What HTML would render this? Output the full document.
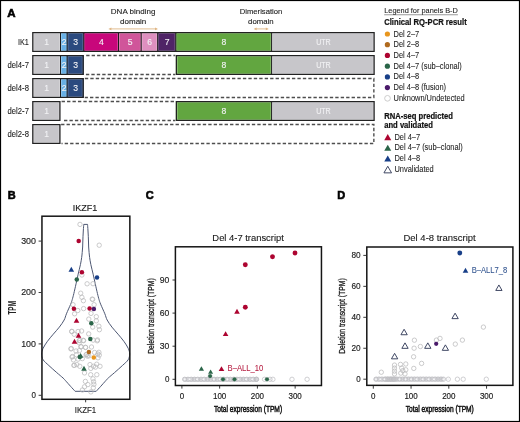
<!DOCTYPE html>
<html><head><meta charset="utf-8"><style>
html,body{margin:0;padding:0;background:#fff;}
svg{display:block;will-change:transform;}
text{font-family:"Liberation Sans", sans-serif;}
</style></head><body>
<svg width="520" height="422" viewBox="0 0 520 422">
<rect x="0" y="0" width="520" height="422" fill="#fff"/>
<text x="7.2" y="17.2" font-size="11.50" text-anchor="start" font-weight="bold" fill="#000" stroke="#000" stroke-width="0.6" textLength="8.30" lengthAdjust="spacingAndGlyphs" >A</text>
<text x="133.1" y="14.1" font-size="8.00" text-anchor="middle" font-weight="normal" fill="#222" stroke="#222" stroke-width="0.12" textLength="44.60" lengthAdjust="spacingAndGlyphs" >DNA binding</text>
<text x="133.2" y="23.5" font-size="8.00" text-anchor="middle" font-weight="normal" fill="#222" stroke="#222" stroke-width="0.12" textLength="26.24" lengthAdjust="spacingAndGlyphs" >domain</text>
<text x="261.0" y="14.1" font-size="8.10" text-anchor="middle" font-weight="normal" fill="#222" stroke="#222" stroke-width="0.12" textLength="42.60" lengthAdjust="spacingAndGlyphs" >Dimerisation</text>
<text x="260.9" y="23.5" font-size="8.10" text-anchor="middle" font-weight="normal" fill="#222" stroke="#222" stroke-width="0.12" textLength="25.60" lengthAdjust="spacingAndGlyphs" >domain</text>
<line x1="109.9" y1="28.9" x2="156.5" y2="28.9" stroke="#dfb584" stroke-width="0.9"/>
<polygon points="108.4,28.9 111.4,27.6 111.4,30.2" fill="#dfb584"/>
<polygon points="158.0,28.9 155.0,27.6 155.0,30.2" fill="#dfb584"/>
<line x1="255.1" y1="28.9" x2="267.3" y2="28.9" stroke="#dfb584" stroke-width="0.9"/>
<polygon points="253.6,28.9 256.6,27.6 256.6,30.2" fill="#dfb584"/>
<polygon points="268.8,28.9 265.8,27.6 265.8,30.2" fill="#dfb584"/>
<text x="28.9" y="44.5" font-size="9.28" text-anchor="end" font-weight="normal" fill="#1a1a1a" stroke="#1a1a1a" stroke-width="0.1" textLength="10.90" lengthAdjust="spacingAndGlyphs" >IK1</text>
<rect x="32.2" y="32.0" width="28.299999999999997" height="20.0" fill="#c7c6ca"/>
<rect x="33.80" y="33.60" width="25.80" height="16.80" fill="none" stroke="#fff" stroke-opacity="0.28" stroke-width="0.8"/>
<rect x="60.5" y="32.0" width="6.599999999999994" height="20.0" fill="#67b0e6"/>
<rect x="61.40" y="33.60" width="4.80" height="16.80" fill="none" stroke="#fff" stroke-opacity="0.28" stroke-width="0.8"/>
<rect x="67.1" y="32.0" width="16.700000000000003" height="20.0" fill="#2b4a7f"/>
<rect x="68.00" y="33.60" width="14.90" height="16.80" fill="none" stroke="#fff" stroke-opacity="0.28" stroke-width="0.8"/>
<rect x="83.8" y="32.0" width="34.7" height="20.0" fill="#c8077b"/>
<rect x="84.70" y="33.60" width="32.90" height="16.80" fill="none" stroke="#fff" stroke-opacity="0.28" stroke-width="0.8"/>
<rect x="118.5" y="32.0" width="22.69999999999999" height="20.0" fill="#d0559a"/>
<rect x="119.40" y="33.60" width="20.90" height="16.80" fill="none" stroke="#fff" stroke-opacity="0.28" stroke-width="0.8"/>
<rect x="141.2" y="32.0" width="16.5" height="20.0" fill="#de8fbf"/>
<rect x="142.10" y="33.60" width="14.70" height="16.80" fill="none" stroke="#fff" stroke-opacity="0.28" stroke-width="0.8"/>
<rect x="157.7" y="32.0" width="18.100000000000023" height="20.0" fill="#4f2466"/>
<rect x="158.60" y="33.60" width="16.30" height="16.80" fill="none" stroke="#fff" stroke-opacity="0.28" stroke-width="0.8"/>
<rect x="175.8" y="32.0" width="95.80000000000001" height="20.0" fill="#62a640"/>
<rect x="176.70" y="33.60" width="94.00" height="16.80" fill="none" stroke="#fff" stroke-opacity="0.28" stroke-width="0.8"/>
<rect x="271.6" y="32.0" width="103.09999999999997" height="20.0" fill="#c7c6ca"/>
<rect x="272.50" y="33.60" width="100.60" height="16.80" fill="none" stroke="#fff" stroke-opacity="0.28" stroke-width="0.8"/>
<line x1="60.5" y1="32.0" x2="60.5" y2="52.0" stroke="#1c1c1c" stroke-width="1.0"/>
<line x1="67.1" y1="32.0" x2="67.1" y2="52.0" stroke="#1c1c1c" stroke-width="1.0"/>
<line x1="83.8" y1="32.0" x2="83.8" y2="52.0" stroke="#1c1c1c" stroke-width="1.0"/>
<line x1="118.5" y1="32.0" x2="118.5" y2="52.0" stroke="#1c1c1c" stroke-width="1.0"/>
<line x1="141.2" y1="32.0" x2="141.2" y2="52.0" stroke="#1c1c1c" stroke-width="1.0"/>
<line x1="157.7" y1="32.0" x2="157.7" y2="52.0" stroke="#1c1c1c" stroke-width="1.0"/>
<line x1="175.8" y1="32.0" x2="175.8" y2="52.0" stroke="#1c1c1c" stroke-width="1.0"/>
<line x1="271.6" y1="32.0" x2="271.6" y2="52.0" stroke="#1c1c1c" stroke-width="1.0"/>
<rect x="32.800000000000004" y="32.6" width="341.3" height="18.8" fill="none" stroke="#222" stroke-width="1.2"/>
<text x="46.65" y="44.9" font-size="8.6" text-anchor="middle" fill="#f2f2f4" stroke="#f2f2f4" stroke-width="0.12">1</text>
<text x="64.10" y="44.9" font-size="8.6" text-anchor="middle" fill="#f2f2f4" stroke="#f2f2f4" stroke-width="0.12">2</text>
<text x="75.75" y="44.9" font-size="8.6" text-anchor="middle" fill="#f2f2f4" stroke="#f2f2f4" stroke-width="0.12">3</text>
<text x="101.45" y="44.9" font-size="8.6" text-anchor="middle" fill="#f2f2f4" stroke="#f2f2f4" stroke-width="0.12">4</text>
<text x="130.15" y="44.9" font-size="8.6" text-anchor="middle" fill="#f2f2f4" stroke="#f2f2f4" stroke-width="0.12">5</text>
<text x="149.75" y="44.9" font-size="8.6" text-anchor="middle" fill="#f2f2f4" stroke="#f2f2f4" stroke-width="0.12">6</text>
<text x="167.05" y="44.9" font-size="8.6" text-anchor="middle" fill="#f2f2f4" stroke="#f2f2f4" stroke-width="0.12">7</text>
<text x="224.00" y="44.9" font-size="8.6" text-anchor="middle" fill="#f2f2f4" stroke="#f2f2f4" stroke-width="0.12">8</text>
<text x="323.45" y="44.9" font-size="8.6" text-anchor="middle" fill="#f2f2f4" stroke="#f2f2f4" stroke-width="0.12" textLength="14.6" lengthAdjust="spacingAndGlyphs">UTR</text>
<text x="28.9" y="67.5" font-size="9.28" text-anchor="end" font-weight="normal" fill="#1a1a1a" stroke="#1a1a1a" stroke-width="0.1" textLength="21.30" lengthAdjust="spacingAndGlyphs" >del4-7</text>
<path d="M86.2,55.45 H175.3" stroke="#4e4e4e" stroke-width="1.4" stroke-dasharray="3.35,2.1" fill="none"/>
<path d="M85.89999999999999,74.55 H175.3" stroke="#4e4e4e" stroke-width="1.4" stroke-dasharray="3.35,2.1" fill="none"/>
<rect x="32.2" y="55.0" width="28.299999999999997" height="20.0" fill="#c7c6ca"/>
<rect x="33.80" y="56.60" width="25.80" height="16.80" fill="none" stroke="#fff" stroke-opacity="0.28" stroke-width="0.8"/>
<rect x="60.5" y="55.0" width="6.599999999999994" height="20.0" fill="#67b0e6"/>
<rect x="61.40" y="56.60" width="4.80" height="16.80" fill="none" stroke="#fff" stroke-opacity="0.28" stroke-width="0.8"/>
<rect x="67.1" y="55.0" width="16.700000000000003" height="20.0" fill="#2b4a7f"/>
<rect x="68.00" y="56.60" width="14.20" height="16.80" fill="none" stroke="#fff" stroke-opacity="0.28" stroke-width="0.8"/>
<line x1="60.5" y1="55.0" x2="60.5" y2="75.0" stroke="#1c1c1c" stroke-width="1.0"/>
<line x1="67.1" y1="55.0" x2="67.1" y2="75.0" stroke="#1c1c1c" stroke-width="1.0"/>
<rect x="32.800000000000004" y="55.6" width="50.39999999999999" height="18.8" fill="none" stroke="#222" stroke-width="1.2"/>
<text x="46.65" y="67.9" font-size="8.6" text-anchor="middle" fill="#f2f2f4" stroke="#f2f2f4" stroke-width="0.12">1</text>
<text x="64.10" y="67.9" font-size="8.6" text-anchor="middle" fill="#f2f2f4" stroke="#f2f2f4" stroke-width="0.12">2</text>
<text x="75.75" y="67.9" font-size="8.6" text-anchor="middle" fill="#f2f2f4" stroke="#f2f2f4" stroke-width="0.12">3</text>
<rect x="175.8" y="55.0" width="95.80000000000001" height="20.0" fill="#62a640"/>
<rect x="177.40" y="56.60" width="93.30" height="16.80" fill="none" stroke="#fff" stroke-opacity="0.28" stroke-width="0.8"/>
<rect x="271.6" y="55.0" width="103.09999999999997" height="20.0" fill="#c7c6ca"/>
<rect x="272.50" y="56.60" width="100.60" height="16.80" fill="none" stroke="#fff" stroke-opacity="0.28" stroke-width="0.8"/>
<line x1="271.6" y1="55.0" x2="271.6" y2="75.0" stroke="#1c1c1c" stroke-width="1.0"/>
<rect x="176.4" y="55.6" width="197.7" height="18.8" fill="none" stroke="#222" stroke-width="1.2"/>
<text x="224.00" y="67.9" font-size="8.6" text-anchor="middle" fill="#f2f2f4" stroke="#f2f2f4" stroke-width="0.12">8</text>
<text x="323.45" y="67.9" font-size="8.6" text-anchor="middle" fill="#f2f2f4" stroke="#f2f2f4" stroke-width="0.12" textLength="14.6" lengthAdjust="spacingAndGlyphs">UTR</text>
<text x="28.9" y="90.5" font-size="9.28" text-anchor="end" font-weight="normal" fill="#1a1a1a" stroke="#1a1a1a" stroke-width="0.1" textLength="21.30" lengthAdjust="spacingAndGlyphs" >del4-8</text>
<path d="M84.85,78.45 H373.84999999999997 V97.55 H84.8" stroke="#4e4e4e" stroke-width="1.4" stroke-dasharray="3.35,2.1" fill="none"/>
<rect x="32.2" y="78.0" width="28.299999999999997" height="20.0" fill="#c7c6ca"/>
<rect x="33.80" y="79.60" width="25.80" height="16.80" fill="none" stroke="#fff" stroke-opacity="0.28" stroke-width="0.8"/>
<rect x="60.5" y="78.0" width="6.599999999999994" height="20.0" fill="#67b0e6"/>
<rect x="61.40" y="79.60" width="4.80" height="16.80" fill="none" stroke="#fff" stroke-opacity="0.28" stroke-width="0.8"/>
<rect x="67.1" y="78.0" width="16.700000000000003" height="20.0" fill="#2b4a7f"/>
<rect x="68.00" y="79.60" width="14.20" height="16.80" fill="none" stroke="#fff" stroke-opacity="0.28" stroke-width="0.8"/>
<line x1="60.5" y1="78.0" x2="60.5" y2="98.0" stroke="#1c1c1c" stroke-width="1.0"/>
<line x1="67.1" y1="78.0" x2="67.1" y2="98.0" stroke="#1c1c1c" stroke-width="1.0"/>
<rect x="32.800000000000004" y="78.6" width="50.39999999999999" height="18.8" fill="none" stroke="#222" stroke-width="1.2"/>
<text x="46.65" y="90.9" font-size="8.6" text-anchor="middle" fill="#f2f2f4" stroke="#f2f2f4" stroke-width="0.12">1</text>
<text x="64.10" y="90.9" font-size="8.6" text-anchor="middle" fill="#f2f2f4" stroke="#f2f2f4" stroke-width="0.12">2</text>
<text x="75.75" y="90.9" font-size="8.6" text-anchor="middle" fill="#f2f2f4" stroke="#f2f2f4" stroke-width="0.12">3</text>
<text x="28.9" y="113.5" font-size="9.28" text-anchor="end" font-weight="normal" fill="#1a1a1a" stroke="#1a1a1a" stroke-width="0.1" textLength="21.30" lengthAdjust="spacingAndGlyphs" >del2-7</text>
<path d="M61.6,101.45 H175.3" stroke="#4e4e4e" stroke-width="1.4" stroke-dasharray="3.35,2.1" fill="none"/>
<path d="M64.0,120.55 H175.3" stroke="#4e4e4e" stroke-width="1.4" stroke-dasharray="3.35,2.1" fill="none"/>
<rect x="32.2" y="101.0" width="28.299999999999997" height="20.0" fill="#c7c6ca"/>
<rect x="33.80" y="102.60" width="25.10" height="16.80" fill="none" stroke="#fff" stroke-opacity="0.28" stroke-width="0.8"/>
<rect x="32.800000000000004" y="101.6" width="27.099999999999998" height="18.8" fill="none" stroke="#222" stroke-width="1.2"/>
<text x="46.65" y="113.9" font-size="8.6" text-anchor="middle" fill="#f2f2f4" stroke="#f2f2f4" stroke-width="0.12">1</text>
<rect x="175.8" y="101.0" width="95.80000000000001" height="20.0" fill="#62a640"/>
<rect x="177.40" y="102.60" width="93.30" height="16.80" fill="none" stroke="#fff" stroke-opacity="0.28" stroke-width="0.8"/>
<rect x="271.6" y="101.0" width="103.09999999999997" height="20.0" fill="#c7c6ca"/>
<rect x="272.50" y="102.60" width="100.60" height="16.80" fill="none" stroke="#fff" stroke-opacity="0.28" stroke-width="0.8"/>
<line x1="271.6" y1="101.0" x2="271.6" y2="121.0" stroke="#1c1c1c" stroke-width="1.0"/>
<rect x="176.4" y="101.6" width="197.7" height="18.8" fill="none" stroke="#222" stroke-width="1.2"/>
<text x="224.00" y="113.9" font-size="8.6" text-anchor="middle" fill="#f2f2f4" stroke="#f2f2f4" stroke-width="0.12">8</text>
<text x="323.45" y="113.9" font-size="8.6" text-anchor="middle" fill="#f2f2f4" stroke="#f2f2f4" stroke-width="0.12" textLength="14.6" lengthAdjust="spacingAndGlyphs">UTR</text>
<text x="28.9" y="136.5" font-size="9.28" text-anchor="end" font-weight="normal" fill="#1a1a1a" stroke="#1a1a1a" stroke-width="0.1" textLength="21.30" lengthAdjust="spacingAndGlyphs" >del2-8</text>
<path d="M61.1,124.45 H373.84999999999997 V143.55 H61.5" stroke="#4e4e4e" stroke-width="1.4" stroke-dasharray="3.35,2.1" fill="none"/>
<rect x="32.2" y="124.0" width="28.299999999999997" height="20.0" fill="#c7c6ca"/>
<rect x="33.80" y="125.60" width="25.10" height="16.80" fill="none" stroke="#fff" stroke-opacity="0.28" stroke-width="0.8"/>
<rect x="32.800000000000004" y="124.6" width="27.099999999999998" height="18.8" fill="none" stroke="#222" stroke-width="1.2"/>
<text x="46.65" y="136.9" font-size="8.6" text-anchor="middle" fill="#f2f2f4" stroke="#f2f2f4" stroke-width="0.12">1</text>
<text x="384.2" y="13.2" font-size="7.99" text-anchor="start" font-weight="normal" fill="#222" stroke="#222" stroke-width="0.1" textLength="73.70" lengthAdjust="spacingAndGlyphs" >Legend for panels B-D</text>
<line x1="384.2" y1="14.75" x2="457.9" y2="14.75" stroke="#444" stroke-width="0.55"/>
<text x="384.2" y="25.3" font-size="9.20" text-anchor="start" font-weight="bold" fill="#111" stroke="#111" stroke-width="0.22" textLength="82.50" lengthAdjust="spacingAndGlyphs" >Clinical RQ-PCR result</text>
<circle cx="387.40" cy="34.00" r="2.6" fill="#e8961e"/>
<text x="393.5" y="36.6" font-size="8.20" text-anchor="start" font-weight="normal" fill="#222" stroke="#222" stroke-width="0.07" textLength="25.68" lengthAdjust="spacingAndGlyphs" >Del 2–7</text>
<circle cx="387.40" cy="44.72" r="2.6" fill="#b06a1e"/>
<text x="393.5" y="47.32" font-size="8.20" text-anchor="start" font-weight="normal" fill="#222" stroke="#222" stroke-width="0.07" textLength="25.68" lengthAdjust="spacingAndGlyphs" >Del 2–8</text>
<circle cx="387.40" cy="55.44" r="2.6" fill="#ad0430"/>
<text x="393.5" y="58.04" font-size="8.20" text-anchor="start" font-weight="normal" fill="#222" stroke="#222" stroke-width="0.07" textLength="25.68" lengthAdjust="spacingAndGlyphs" >Del 4–7</text>
<circle cx="387.40" cy="66.16" r="2.6" fill="#2a6548"/>
<text x="393.5" y="68.75999999999999" font-size="8.20" text-anchor="start" font-weight="normal" fill="#222" stroke="#222" stroke-width="0.07" textLength="68.33" lengthAdjust="spacingAndGlyphs" >Del 4–7 (sub–clonal)</text>
<circle cx="387.40" cy="76.88" r="2.6" fill="#183f88"/>
<text x="393.5" y="79.47999999999999" font-size="8.20" text-anchor="start" font-weight="normal" fill="#222" stroke="#222" stroke-width="0.07" textLength="25.68" lengthAdjust="spacingAndGlyphs" >Del 4–8</text>
<circle cx="387.40" cy="87.60" r="2.6" fill="#4a1a6a"/>
<text x="393.5" y="90.19999999999999" font-size="8.20" text-anchor="start" font-weight="normal" fill="#222" stroke="#222" stroke-width="0.07" textLength="52.59" lengthAdjust="spacingAndGlyphs" >Del 4–8 (fusion)</text>
<circle cx="387.50" cy="98.32" r="2.85" fill="none" stroke="#c4c4c4" stroke-width="0.85"/>
<text x="393.5" y="100.92" font-size="8.20" text-anchor="start" font-weight="normal" fill="#222" stroke="#222" stroke-width="0.07" textLength="71.23" lengthAdjust="spacingAndGlyphs" >Unknown/Undetected</text>
<text x="384.2" y="118.7" font-size="9.20" text-anchor="start" font-weight="bold" fill="#111" stroke="#111" stroke-width="0.22" textLength="68.70" lengthAdjust="spacingAndGlyphs" >RNA-seq predicted</text>
<text x="384.2" y="127.6" font-size="9.20" text-anchor="start" font-weight="bold" fill="#111" stroke="#111" stroke-width="0.22" textLength="48.77" lengthAdjust="spacingAndGlyphs" >and validated</text>
<polygon points="384.25,140.14 391.25,140.14 387.75,134.06" fill="#ad0430"/>
<text x="394.4" y="139.7" font-size="8.20" text-anchor="start" font-weight="normal" fill="#222" stroke="#222" stroke-width="0.07" textLength="25.68" lengthAdjust="spacingAndGlyphs" >Del 4–7</text>
<polygon points="384.25,150.86 391.25,150.86 387.75,144.78" fill="#2a6548"/>
<text x="394.4" y="150.42" font-size="8.20" text-anchor="start" font-weight="normal" fill="#222" stroke="#222" stroke-width="0.07" textLength="68.33" lengthAdjust="spacingAndGlyphs" >Del 4–7 (sub–clonal)</text>
<polygon points="384.25,161.58 391.25,161.58 387.75,155.50" fill="#183f88"/>
<text x="394.4" y="161.14" font-size="8.20" text-anchor="start" font-weight="normal" fill="#222" stroke="#222" stroke-width="0.07" textLength="25.68" lengthAdjust="spacingAndGlyphs" >Del 4–8</text>
<polygon points="383.95,172.87 391.55,172.87 387.75,166.25" fill="#fff" stroke="#363e5c" stroke-width="0.95" stroke-linejoin="miter"/>
<text x="394.4" y="171.85999999999999" font-size="8.20" text-anchor="start" font-weight="normal" fill="#222" stroke="#222" stroke-width="0.07" textLength="39.35" lengthAdjust="spacingAndGlyphs" >Unvalidated</text>
<text x="7.8" y="199.0" font-size="11.00" text-anchor="start" font-weight="bold" fill="#000" stroke="#000" stroke-width="0.6" textLength="7.94" lengthAdjust="spacingAndGlyphs" >B</text>
<text x="85.1" y="210.6" font-size="8.90" text-anchor="middle" font-weight="normal" fill="#1a1a1a" stroke="#1a1a1a" stroke-width="0.15" textLength="24.60" lengthAdjust="spacingAndGlyphs" >IKZF1</text>
<path d="M83.75,224.40 C83.68,225.33 83.48,228.02 83.35,230.00 C83.23,231.98 83.09,234.30 83.00,236.30 C82.91,238.30 82.86,240.22 82.80,242.00 C82.74,243.78 82.75,245.23 82.65,247.00 C82.55,248.77 82.37,250.83 82.20,252.60 C82.03,254.37 81.94,255.60 81.65,257.60 C81.36,259.60 81.03,261.83 80.45,264.60 C79.87,267.37 78.88,271.00 78.15,274.20 C77.42,277.40 76.77,280.58 76.05,283.80 C75.33,287.02 74.48,290.87 73.85,293.50 C73.22,296.13 72.78,297.82 72.25,299.60 C71.72,301.38 71.62,301.83 70.65,304.20 C69.68,306.57 67.53,311.17 66.45,313.80 C65.37,316.43 65.33,317.78 64.15,320.00 C62.97,322.22 61.17,324.73 59.35,327.10 C57.53,329.47 55.23,331.83 53.25,334.20 C51.27,336.57 49.15,338.93 47.45,341.30 C45.75,343.67 44.02,346.27 43.05,348.40 C42.08,350.53 41.63,352.20 41.65,354.10 C41.67,356.00 41.95,357.90 43.15,359.80 C44.35,361.70 46.58,363.37 48.85,365.50 C51.12,367.63 54.38,370.52 56.75,372.60 C59.12,374.68 61.51,376.57 63.05,378.00 C64.59,379.43 64.75,379.82 66.00,381.20 C67.25,382.58 69.03,384.62 70.55,386.30 C72.07,387.98 74.34,390.47 75.10,391.30 L96.20,391.30 C96.96,390.47 99.23,387.98 100.75,386.30 C102.27,384.62 104.05,382.58 105.30,381.20 C106.55,379.82 106.71,379.43 108.25,378.00 C109.79,376.57 112.18,374.68 114.55,372.60 C116.92,370.52 120.18,367.63 122.45,365.50 C124.72,363.37 126.95,361.70 128.15,359.80 C129.35,357.90 129.63,356.00 129.65,354.10 C129.67,352.20 129.22,350.53 128.25,348.40 C127.28,346.27 125.55,343.67 123.85,341.30 C122.15,338.93 120.03,336.57 118.05,334.20 C116.07,331.83 113.77,329.47 111.95,327.10 C110.13,324.73 108.33,322.22 107.15,320.00 C105.97,317.78 105.93,316.43 104.85,313.80 C103.77,311.17 101.62,306.57 100.65,304.20 C99.68,301.83 99.58,301.38 99.05,299.60 C98.52,297.82 98.08,296.13 97.45,293.50 C96.82,290.87 95.97,287.02 95.25,283.80 C94.53,280.58 93.88,277.40 93.15,274.20 C92.42,271.00 91.43,267.37 90.85,264.60 C90.27,261.83 89.94,259.60 89.65,257.60 C89.36,255.60 89.27,254.37 89.10,252.60 C88.93,250.83 88.75,248.77 88.65,247.00 C88.55,245.23 88.56,243.78 88.50,242.00 C88.44,240.22 88.39,238.30 88.30,236.30 C88.21,234.30 88.08,231.98 87.95,230.00 C87.83,228.02 87.62,225.33 87.55,224.40 Z" fill="none" stroke="#4d5772" stroke-width="1.0" stroke-linejoin="miter"/>
<circle cx="80.00" cy="224.40" r="2.2" fill="none" stroke="#b9b9bb" stroke-width="0.75"/>
<circle cx="99.20" cy="245.20" r="2.2" fill="none" stroke="#b9b9bb" stroke-width="0.75"/>
<circle cx="81.90" cy="275.00" r="2.2" fill="none" stroke="#b9b9bb" stroke-width="0.75"/>
<circle cx="87.10" cy="283.80" r="2.2" fill="none" stroke="#b9b9bb" stroke-width="0.75"/>
<circle cx="93.00" cy="283.70" r="2.2" fill="none" stroke="#b9b9bb" stroke-width="0.75"/>
<circle cx="80.70" cy="293.20" r="2.2" fill="none" stroke="#b9b9bb" stroke-width="0.75"/>
<circle cx="81.90" cy="297.30" r="2.2" fill="none" stroke="#b9b9bb" stroke-width="0.75"/>
<circle cx="92.20" cy="299.10" r="2.2" fill="none" stroke="#b9b9bb" stroke-width="0.75"/>
<circle cx="83.40" cy="300.70" r="2.2" fill="none" stroke="#b9b9bb" stroke-width="0.75"/>
<circle cx="92.70" cy="299.40" r="2.2" fill="none" stroke="#b9b9bb" stroke-width="0.75"/>
<circle cx="94.10" cy="304.70" r="2.2" fill="none" stroke="#b9b9bb" stroke-width="0.75"/>
<circle cx="73.00" cy="304.70" r="2.2" fill="none" stroke="#b9b9bb" stroke-width="0.75"/>
<circle cx="77.80" cy="310.50" r="2.2" fill="none" stroke="#b9b9bb" stroke-width="0.75"/>
<circle cx="83.60" cy="308.60" r="2.2" fill="none" stroke="#b9b9bb" stroke-width="0.75"/>
<circle cx="74.60" cy="313.80" r="2.2" fill="none" stroke="#b9b9bb" stroke-width="0.75"/>
<circle cx="91.00" cy="313.40" r="2.2" fill="none" stroke="#b9b9bb" stroke-width="0.75"/>
<circle cx="96.30" cy="316.70" r="2.2" fill="none" stroke="#b9b9bb" stroke-width="0.75"/>
<circle cx="88.80" cy="319.10" r="2.2" fill="none" stroke="#b9b9bb" stroke-width="0.75"/>
<circle cx="96.30" cy="320.80" r="2.2" fill="none" stroke="#b9b9bb" stroke-width="0.75"/>
<circle cx="98.90" cy="326.20" r="2.2" fill="none" stroke="#b9b9bb" stroke-width="0.75"/>
<circle cx="92.70" cy="327.10" r="2.2" fill="none" stroke="#b9b9bb" stroke-width="0.75"/>
<circle cx="99.40" cy="329.70" r="2.2" fill="none" stroke="#b9b9bb" stroke-width="0.75"/>
<circle cx="71.70" cy="331.50" r="2.2" fill="none" stroke="#b9b9bb" stroke-width="0.75"/>
<circle cx="78.10" cy="331.50" r="2.2" fill="none" stroke="#b9b9bb" stroke-width="0.75"/>
<circle cx="81.60" cy="331.00" r="2.2" fill="none" stroke="#b9b9bb" stroke-width="0.75"/>
<circle cx="74.20" cy="334.30" r="2.2" fill="none" stroke="#b9b9bb" stroke-width="0.75"/>
<circle cx="88.70" cy="333.90" r="2.2" fill="none" stroke="#b9b9bb" stroke-width="0.75"/>
<circle cx="97.50" cy="339.90" r="2.2" fill="none" stroke="#b9b9bb" stroke-width="0.75"/>
<circle cx="93.20" cy="340.10" r="2.2" fill="none" stroke="#b9b9bb" stroke-width="0.75"/>
<circle cx="83.30" cy="340.30" r="2.2" fill="none" stroke="#b9b9bb" stroke-width="0.75"/>
<circle cx="79.20" cy="340.60" r="2.2" fill="none" stroke="#b9b9bb" stroke-width="0.75"/>
<circle cx="79.20" cy="342.80" r="2.2" fill="none" stroke="#b9b9bb" stroke-width="0.75"/>
<circle cx="97.20" cy="340.80" r="2.2" fill="none" stroke="#b9b9bb" stroke-width="0.75"/>
<circle cx="79.80" cy="340.40" r="2.2" fill="none" stroke="#b9b9bb" stroke-width="0.75"/>
<circle cx="83.60" cy="340.70" r="2.2" fill="none" stroke="#b9b9bb" stroke-width="0.75"/>
<circle cx="70.90" cy="348.90" r="2.2" fill="none" stroke="#b9b9bb" stroke-width="0.75"/>
<circle cx="81.10" cy="346.80" r="2.2" fill="none" stroke="#b9b9bb" stroke-width="0.75"/>
<circle cx="85.60" cy="347.50" r="2.2" fill="none" stroke="#b9b9bb" stroke-width="0.75"/>
<circle cx="91.50" cy="347.00" r="2.2" fill="none" stroke="#b9b9bb" stroke-width="0.75"/>
<circle cx="71.30" cy="348.60" r="2.2" fill="none" stroke="#b9b9bb" stroke-width="0.75"/>
<circle cx="81.00" cy="346.70" r="2.2" fill="none" stroke="#b9b9bb" stroke-width="0.75"/>
<circle cx="85.50" cy="347.30" r="2.2" fill="none" stroke="#b9b9bb" stroke-width="0.75"/>
<circle cx="76.00" cy="351.00" r="2.2" fill="none" stroke="#b9b9bb" stroke-width="0.75"/>
<circle cx="79.40" cy="350.60" r="2.2" fill="none" stroke="#b9b9bb" stroke-width="0.75"/>
<circle cx="94.60" cy="352.50" r="2.2" fill="none" stroke="#b9b9bb" stroke-width="0.75"/>
<circle cx="98.90" cy="352.30" r="2.2" fill="none" stroke="#b9b9bb" stroke-width="0.75"/>
<circle cx="99.30" cy="355.10" r="2.2" fill="none" stroke="#b9b9bb" stroke-width="0.75"/>
<circle cx="72.60" cy="356.50" r="2.2" fill="none" stroke="#b9b9bb" stroke-width="0.75"/>
<circle cx="76.40" cy="354.80" r="2.2" fill="none" stroke="#b9b9bb" stroke-width="0.75"/>
<circle cx="86.60" cy="354.40" r="2.2" fill="none" stroke="#b9b9bb" stroke-width="0.75"/>
<circle cx="87.40" cy="356.10" r="2.2" fill="none" stroke="#b9b9bb" stroke-width="0.75"/>
<circle cx="98.00" cy="357.80" r="2.2" fill="none" stroke="#b9b9bb" stroke-width="0.75"/>
<circle cx="73.40" cy="359.90" r="2.2" fill="none" stroke="#b9b9bb" stroke-width="0.75"/>
<circle cx="78.10" cy="359.10" r="2.2" fill="none" stroke="#b9b9bb" stroke-width="0.75"/>
<circle cx="82.30" cy="358.60" r="2.2" fill="none" stroke="#b9b9bb" stroke-width="0.75"/>
<circle cx="73.90" cy="365.40" r="2.2" fill="none" stroke="#b9b9bb" stroke-width="0.75"/>
<circle cx="76.80" cy="364.60" r="2.2" fill="none" stroke="#b9b9bb" stroke-width="0.75"/>
<circle cx="79.80" cy="366.30" r="2.2" fill="none" stroke="#b9b9bb" stroke-width="0.75"/>
<circle cx="90.00" cy="364.60" r="2.2" fill="none" stroke="#b9b9bb" stroke-width="0.75"/>
<circle cx="90.80" cy="368.40" r="2.2" fill="none" stroke="#b9b9bb" stroke-width="0.75"/>
<circle cx="93.40" cy="366.30" r="2.2" fill="none" stroke="#b9b9bb" stroke-width="0.75"/>
<circle cx="96.70" cy="364.20" r="2.2" fill="none" stroke="#b9b9bb" stroke-width="0.75"/>
<circle cx="100.00" cy="366.30" r="2.2" fill="none" stroke="#b9b9bb" stroke-width="0.75"/>
<circle cx="95.50" cy="367.10" r="2.2" fill="none" stroke="#b9b9bb" stroke-width="0.75"/>
<circle cx="84.50" cy="372.90" r="2.2" fill="none" stroke="#b9b9bb" stroke-width="0.75"/>
<circle cx="90.70" cy="374.70" r="2.2" fill="none" stroke="#b9b9bb" stroke-width="0.75"/>
<circle cx="96.80" cy="374.70" r="2.2" fill="none" stroke="#b9b9bb" stroke-width="0.75"/>
<circle cx="93.00" cy="378.80" r="2.2" fill="none" stroke="#b9b9bb" stroke-width="0.75"/>
<circle cx="85.40" cy="381.40" r="2.2" fill="none" stroke="#b9b9bb" stroke-width="0.75"/>
<circle cx="87.90" cy="384.60" r="2.2" fill="none" stroke="#b9b9bb" stroke-width="0.75"/>
<circle cx="84.50" cy="386.80" r="2.2" fill="none" stroke="#b9b9bb" stroke-width="0.75"/>
<circle cx="93.90" cy="384.30" r="2.2" fill="none" stroke="#b9b9bb" stroke-width="0.75"/>
<circle cx="93.30" cy="387.80" r="2.2" fill="none" stroke="#b9b9bb" stroke-width="0.75"/>
<circle cx="82.40" cy="390.00" r="2.2" fill="none" stroke="#b9b9bb" stroke-width="0.75"/>
<circle cx="90.90" cy="391.90" r="2.2" fill="none" stroke="#b9b9bb" stroke-width="0.75"/>
<circle cx="93.60" cy="381.80" r="2.2" fill="none" stroke="#b9b9bb" stroke-width="0.75"/>
<circle cx="72.00" cy="357.00" r="2.2" fill="none" stroke="#b9b9bb" stroke-width="0.75"/>
<circle cx="74.30" cy="365.20" r="2.2" fill="none" stroke="#b9b9bb" stroke-width="0.75"/>
<circle cx="71.90" cy="331.40" r="2.2" fill="none" stroke="#b9b9bb" stroke-width="0.75"/>
<circle cx="86.10" cy="354.80" r="2.2" fill="none" stroke="#b9b9bb" stroke-width="0.75"/>
<circle cx="88.80" cy="355.90" r="2.2" fill="none" stroke="#b9b9bb" stroke-width="0.75"/>
<circle cx="97.80" cy="354.00" r="2.2" fill="none" stroke="#b9b9bb" stroke-width="0.75"/>
<circle cx="78.70" cy="240.90" r="2.25" fill="#ad0430"/>
<polygon points="68.50,271.74 74.10,271.74 71.30,266.86" fill="#183f88"/>
<circle cx="81.90" cy="272.20" r="2.25" fill="#ad0430"/>
<circle cx="76.80" cy="279.40" r="2.25" fill="#2a6548"/>
<circle cx="97.00" cy="277.50" r="2.25" fill="#183f88"/>
<circle cx="73.90" cy="308.80" r="2.25" fill="#ad0430"/>
<circle cx="89.60" cy="308.60" r="2.25" fill="#ad0430"/>
<circle cx="93.90" cy="309.00" r="2.25" fill="#4a1a6a"/>
<polygon points="73.70,322.74 79.30,322.74 76.50,317.86" fill="#ad0430"/>
<circle cx="91.30" cy="323.30" r="2.25" fill="#2a6548"/>
<polygon points="75.70,337.74 81.30,337.74 78.50,332.86" fill="#ad0430"/>
<circle cx="90.30" cy="339.00" r="2.25" fill="#2a6548"/>
<polygon points="71.70,343.74 77.30,343.74 74.50,338.86" fill="#ad0430"/>
<circle cx="88.90" cy="352.00" r="2.25" fill="#b06a1e"/>
<circle cx="93.80" cy="357.40" r="2.25" fill="#e8961e"/>
<circle cx="79.80" cy="356.90" r="2.25" fill="#2a6548"/>
<polygon points="77.80,357.84 83.40,357.84 80.60,352.96" fill="#2a6548"/>
<polygon points="81.20,370.74 86.80,370.74 84.00,365.86" fill="#2a6548"/>
<rect x="41.95" y="216.2" width="87.9" height="183.1" fill="none" stroke="#151515" stroke-width="1.5"/>
<line x1="38.6" y1="395.30" x2="41.4" y2="395.30" stroke="#222" stroke-width="0.9"/>
<text x="36.0" y="398.2" font-size="9.20" text-anchor="end" font-weight="normal" fill="#222" stroke="#222" stroke-width="0.15" textLength="4.45" lengthAdjust="spacingAndGlyphs" >0</text>
<line x1="38.6" y1="343.90" x2="41.4" y2="343.90" stroke="#222" stroke-width="0.9"/>
<text x="36.0" y="346.8" font-size="9.20" text-anchor="end" font-weight="normal" fill="#222" stroke="#222" stroke-width="0.15" textLength="14.80" lengthAdjust="spacingAndGlyphs" >100</text>
<line x1="38.6" y1="292.50" x2="41.4" y2="292.50" stroke="#222" stroke-width="0.9"/>
<text x="36.0" y="295.4" font-size="9.20" text-anchor="end" font-weight="normal" fill="#222" stroke="#222" stroke-width="0.15" textLength="14.80" lengthAdjust="spacingAndGlyphs" >200</text>
<line x1="38.6" y1="241.10" x2="41.4" y2="241.10" stroke="#222" stroke-width="0.9"/>
<text x="36.0" y="244.0" font-size="9.20" text-anchor="end" font-weight="normal" fill="#222" stroke="#222" stroke-width="0.15" textLength="14.80" lengthAdjust="spacingAndGlyphs" >300</text>
<line x1="85.65" y1="399.5" x2="85.65" y2="402.3" stroke="#222" stroke-width="0.9"/>
<text x="85.5" y="412.9" font-size="8.20" text-anchor="middle" font-weight="normal" fill="#222" stroke="#222" stroke-width="0.12" textLength="21.40" lengthAdjust="spacingAndGlyphs" >IKZF1</text>
<text transform="translate(15.5,307.8) rotate(-90)" x="0" y="0" font-size="10.0" font-weight="bold" text-anchor="middle" fill="#222" textLength="13.5" lengthAdjust="spacingAndGlyphs">TPM</text>
<text x="145.7" y="198.8" font-size="11.00" text-anchor="start" font-weight="bold" fill="#000" stroke="#000" stroke-width="0.6" textLength="7.94" lengthAdjust="spacingAndGlyphs" >C</text>
<text x="248.1" y="240.9" font-size="9.77" text-anchor="middle" font-weight="normal" fill="#1a1a1a" stroke="#1a1a1a" stroke-width="0.12" textLength="71.50" lengthAdjust="spacingAndGlyphs" >Del 4-7 transcript</text>
<rect x="182.3" y="376.9" width="76.5" height="4.8" rx="2.4" fill="#d6d6da"/>
<circle cx="184.70" cy="379.30" r="2.2" fill="none" stroke="#bfbfc3" stroke-width="0.75"/>
<circle cx="187.96" cy="379.30" r="2.2" fill="none" stroke="#bfbfc3" stroke-width="0.75"/>
<circle cx="191.23" cy="379.30" r="2.2" fill="none" stroke="#bfbfc3" stroke-width="0.75"/>
<circle cx="194.49" cy="379.30" r="2.2" fill="none" stroke="#bfbfc3" stroke-width="0.75"/>
<circle cx="197.75" cy="379.30" r="2.2" fill="none" stroke="#bfbfc3" stroke-width="0.75"/>
<circle cx="201.02" cy="379.30" r="2.2" fill="none" stroke="#bfbfc3" stroke-width="0.75"/>
<circle cx="204.28" cy="379.30" r="2.2" fill="none" stroke="#bfbfc3" stroke-width="0.75"/>
<circle cx="207.55" cy="379.30" r="2.2" fill="none" stroke="#bfbfc3" stroke-width="0.75"/>
<circle cx="210.81" cy="379.30" r="2.2" fill="none" stroke="#bfbfc3" stroke-width="0.75"/>
<circle cx="214.07" cy="379.30" r="2.2" fill="none" stroke="#bfbfc3" stroke-width="0.75"/>
<circle cx="217.34" cy="379.30" r="2.2" fill="none" stroke="#bfbfc3" stroke-width="0.75"/>
<circle cx="220.60" cy="379.30" r="2.2" fill="none" stroke="#bfbfc3" stroke-width="0.75"/>
<circle cx="223.86" cy="379.30" r="2.2" fill="none" stroke="#bfbfc3" stroke-width="0.75"/>
<circle cx="227.13" cy="379.30" r="2.2" fill="none" stroke="#bfbfc3" stroke-width="0.75"/>
<circle cx="230.39" cy="379.30" r="2.2" fill="none" stroke="#bfbfc3" stroke-width="0.75"/>
<circle cx="233.65" cy="379.30" r="2.2" fill="none" stroke="#bfbfc3" stroke-width="0.75"/>
<circle cx="236.92" cy="379.30" r="2.2" fill="none" stroke="#bfbfc3" stroke-width="0.75"/>
<circle cx="240.18" cy="379.30" r="2.2" fill="none" stroke="#bfbfc3" stroke-width="0.75"/>
<circle cx="243.45" cy="379.30" r="2.2" fill="none" stroke="#bfbfc3" stroke-width="0.75"/>
<circle cx="246.71" cy="379.30" r="2.2" fill="none" stroke="#bfbfc3" stroke-width="0.75"/>
<circle cx="249.97" cy="379.30" r="2.2" fill="none" stroke="#bfbfc3" stroke-width="0.75"/>
<circle cx="253.24" cy="379.30" r="2.2" fill="none" stroke="#bfbfc3" stroke-width="0.75"/>
<circle cx="256.50" cy="379.30" r="2.2" fill="none" stroke="#bfbfc3" stroke-width="0.75"/>
<circle cx="264.50" cy="379.30" r="2.2" fill="none" stroke="#bfbfc3" stroke-width="0.75"/>
<circle cx="270.00" cy="379.30" r="2.2" fill="none" stroke="#bfbfc3" stroke-width="0.75"/>
<circle cx="272.90" cy="379.30" r="2.2" fill="none" stroke="#bfbfc3" stroke-width="0.75"/>
<circle cx="256.40" cy="379.30" r="2.2" fill="none" stroke="#bfbfc3" stroke-width="0.75"/>
<circle cx="292.00" cy="379.30" r="2.2" fill="none" stroke="#bfbfc3" stroke-width="0.75"/>
<circle cx="307.10" cy="379.30" r="2.2" fill="none" stroke="#bfbfc3" stroke-width="0.75"/>
<circle cx="184.8" cy="379.3" r="1.05" fill="#f4f4f6"/>
<circle cx="189.6" cy="379.3" r="1.05" fill="#f4f4f6"/>
<circle cx="197.0" cy="379.3" r="1.05" fill="#f4f4f6"/>
<circle cx="203.4" cy="379.3" r="1.05" fill="#f4f4f6"/>
<circle cx="213.8" cy="379.3" r="1.05" fill="#f4f4f6"/>
<circle cx="219.6" cy="379.3" r="1.05" fill="#f4f4f6"/>
<circle cx="227.4" cy="379.3" r="1.05" fill="#f4f4f6"/>
<circle cx="238.6" cy="379.3" r="1.05" fill="#f4f4f6"/>
<circle cx="246.0" cy="379.3" r="1.05" fill="#f4f4f6"/>
<circle cx="252.2" cy="379.3" r="1.05" fill="#f4f4f6"/>
<circle cx="210.10" cy="376.10" r="2.15" fill="#2a6548"/>
<circle cx="210.1" cy="376.1" r="2.2" fill="none" stroke="#c8c8c8" stroke-width="0.5" stroke-opacity="0.6"/>
<circle cx="223.00" cy="379.30" r="2.15" fill="#2a6548"/>
<circle cx="223.0" cy="379.3" r="2.2" fill="none" stroke="#c8c8c8" stroke-width="0.5" stroke-opacity="0.6"/>
<circle cx="234.50" cy="379.30" r="2.15" fill="#2a6548"/>
<circle cx="234.5" cy="379.3" r="2.2" fill="none" stroke="#c8c8c8" stroke-width="0.5" stroke-opacity="0.6"/>
<circle cx="267.00" cy="379.30" r="2.15" fill="#2a6548"/>
<circle cx="267.0" cy="379.3" r="2.2" fill="none" stroke="#c8c8c8" stroke-width="0.5" stroke-opacity="0.6"/>
<polygon points="198.80,370.76 204.00,370.76 201.40,366.24" fill="#2a6548"/>
<polygon points="208.10,373.78 213.10,373.78 210.60,369.43" fill="#2a6548"/>
<polygon points="218.70,371.04 224.30,371.04 221.50,366.16" fill="#ad0430"/>
<polygon points="222.80,336.04 228.40,336.04 225.60,331.16" fill="#ad0430"/>
<polygon points="234.20,313.64 239.80,313.64 237.00,308.76" fill="#ad0430"/>
<circle cx="245.30" cy="307.30" r="2.45" fill="#ad0430"/>
<circle cx="245.30" cy="264.80" r="2.45" fill="#ad0430"/>
<circle cx="272.50" cy="256.80" r="2.45" fill="#ad0430"/>
<circle cx="295.00" cy="253.00" r="2.45" fill="#ad0430"/>
<text x="227.6" y="370.9" font-size="8.51" text-anchor="start" font-weight="normal" fill="#b51c40" stroke="#b51c40" stroke-width="0.08" textLength="35.70" lengthAdjust="spacingAndGlyphs" >B–ALL_10</text>
<rect x="175.4" y="246.8" width="146.05" height="138.7" fill="none" stroke="#151515" stroke-width="1.5"/>
<line x1="172.5" y1="379.30" x2="175.4" y2="379.30" stroke="#222" stroke-width="0.9"/>
<text x="169.4" y="382.2" font-size="9.20" text-anchor="end" font-weight="normal" fill="#222" stroke="#222" stroke-width="0.15" textLength="4.45" lengthAdjust="spacingAndGlyphs" >0</text>
<line x1="172.5" y1="346.20" x2="175.4" y2="346.20" stroke="#222" stroke-width="0.9"/>
<text x="169.4" y="349.101" font-size="9.20" text-anchor="end" font-weight="normal" fill="#222" stroke="#222" stroke-width="0.15" textLength="9.60" lengthAdjust="spacingAndGlyphs" >30</text>
<line x1="172.5" y1="313.10" x2="175.4" y2="313.10" stroke="#222" stroke-width="0.9"/>
<text x="169.4" y="316.002" font-size="9.20" text-anchor="end" font-weight="normal" fill="#222" stroke="#222" stroke-width="0.15" textLength="9.60" lengthAdjust="spacingAndGlyphs" >60</text>
<line x1="172.5" y1="280.00" x2="175.4" y2="280.00" stroke="#222" stroke-width="0.9"/>
<text x="169.4" y="282.903" font-size="9.20" text-anchor="end" font-weight="normal" fill="#222" stroke="#222" stroke-width="0.15" textLength="9.60" lengthAdjust="spacingAndGlyphs" >90</text>
<line x1="181.90" y1="385.7" x2="181.90" y2="388.6" stroke="#222" stroke-width="0.9"/>
<text x="181.9" y="398.9" font-size="8.40" text-anchor="middle" font-weight="normal" fill="#1a1a1a" stroke="#1a1a1a" stroke-width="0.15" textLength="4.45" lengthAdjust="spacingAndGlyphs" >0</text>
<line x1="219.65" y1="385.7" x2="219.65" y2="388.6" stroke="#222" stroke-width="0.9"/>
<text x="219.65" y="398.9" font-size="8.40" text-anchor="middle" font-weight="normal" fill="#1a1a1a" stroke="#1a1a1a" stroke-width="0.15" textLength="13.35" lengthAdjust="spacingAndGlyphs" >100</text>
<line x1="257.40" y1="385.7" x2="257.40" y2="388.6" stroke="#222" stroke-width="0.9"/>
<text x="257.4" y="398.9" font-size="8.40" text-anchor="middle" font-weight="normal" fill="#1a1a1a" stroke="#1a1a1a" stroke-width="0.15" textLength="13.35" lengthAdjust="spacingAndGlyphs" >200</text>
<line x1="295.15" y1="385.7" x2="295.15" y2="388.6" stroke="#222" stroke-width="0.9"/>
<text x="295.15" y="398.9" font-size="8.40" text-anchor="middle" font-weight="normal" fill="#1a1a1a" stroke="#1a1a1a" stroke-width="0.15" textLength="13.35" lengthAdjust="spacingAndGlyphs" >300</text>
<text x="248.0" y="411.9" font-size="9.15" text-anchor="middle" font-weight="normal" fill="#111" stroke="#111" stroke-width="0.5" textLength="68.20" lengthAdjust="spacingAndGlyphs" >Total expression (TPM)</text>
<text transform="translate(153.7,316.1) rotate(-90)" font-size="9.9" text-anchor="middle" fill="#1a1a1a" stroke="#1a1a1a" stroke-width="0.3" textLength="75.5" lengthAdjust="spacingAndGlyphs">Deletion transcript (TPM)</text>
<text x="337.2" y="199.0" font-size="11.00" text-anchor="start" font-weight="bold" fill="#000" stroke="#000" stroke-width="0.6" textLength="7.94" lengthAdjust="spacingAndGlyphs" >D</text>
<text x="439.6" y="241.1" font-size="9.77" text-anchor="middle" font-weight="normal" fill="#1a1a1a" stroke="#1a1a1a" stroke-width="0.12" textLength="72.20" lengthAdjust="spacingAndGlyphs" >Del 4-8 transcript</text>
<rect x="373.7" y="376.8" width="71.0" height="4.8" rx="2.4" fill="#d6d6da"/>
<circle cx="376.00" cy="379.20" r="2.2" fill="none" stroke="#bfbfc3" stroke-width="0.75"/>
<circle cx="378.95" cy="379.20" r="2.2" fill="none" stroke="#bfbfc3" stroke-width="0.75"/>
<circle cx="381.91" cy="379.20" r="2.2" fill="none" stroke="#bfbfc3" stroke-width="0.75"/>
<circle cx="384.86" cy="379.20" r="2.2" fill="none" stroke="#bfbfc3" stroke-width="0.75"/>
<circle cx="387.82" cy="379.20" r="2.2" fill="none" stroke="#bfbfc3" stroke-width="0.75"/>
<circle cx="390.77" cy="379.20" r="2.2" fill="none" stroke="#bfbfc3" stroke-width="0.75"/>
<circle cx="393.73" cy="379.20" r="2.2" fill="none" stroke="#bfbfc3" stroke-width="0.75"/>
<circle cx="396.68" cy="379.20" r="2.2" fill="none" stroke="#bfbfc3" stroke-width="0.75"/>
<circle cx="399.64" cy="379.20" r="2.2" fill="none" stroke="#bfbfc3" stroke-width="0.75"/>
<circle cx="402.59" cy="379.20" r="2.2" fill="none" stroke="#bfbfc3" stroke-width="0.75"/>
<circle cx="405.55" cy="379.20" r="2.2" fill="none" stroke="#bfbfc3" stroke-width="0.75"/>
<circle cx="408.50" cy="379.20" r="2.2" fill="none" stroke="#bfbfc3" stroke-width="0.75"/>
<circle cx="411.45" cy="379.20" r="2.2" fill="none" stroke="#bfbfc3" stroke-width="0.75"/>
<circle cx="414.41" cy="379.20" r="2.2" fill="none" stroke="#bfbfc3" stroke-width="0.75"/>
<circle cx="417.36" cy="379.20" r="2.2" fill="none" stroke="#bfbfc3" stroke-width="0.75"/>
<circle cx="420.32" cy="379.20" r="2.2" fill="none" stroke="#bfbfc3" stroke-width="0.75"/>
<circle cx="423.27" cy="379.20" r="2.2" fill="none" stroke="#bfbfc3" stroke-width="0.75"/>
<circle cx="426.23" cy="379.20" r="2.2" fill="none" stroke="#bfbfc3" stroke-width="0.75"/>
<circle cx="429.18" cy="379.20" r="2.2" fill="none" stroke="#bfbfc3" stroke-width="0.75"/>
<circle cx="432.14" cy="379.20" r="2.2" fill="none" stroke="#bfbfc3" stroke-width="0.75"/>
<circle cx="435.09" cy="379.20" r="2.2" fill="none" stroke="#bfbfc3" stroke-width="0.75"/>
<circle cx="438.05" cy="379.20" r="2.2" fill="none" stroke="#bfbfc3" stroke-width="0.75"/>
<circle cx="441.00" cy="379.20" r="2.2" fill="none" stroke="#bfbfc3" stroke-width="0.75"/>
<circle cx="385.80" cy="379.20" r="2.2" fill="none" stroke="#bfbfc3" stroke-width="0.75"/>
<circle cx="387.60" cy="379.20" r="2.2" fill="none" stroke="#bfbfc3" stroke-width="0.75"/>
<circle cx="389.40" cy="379.20" r="2.2" fill="none" stroke="#bfbfc3" stroke-width="0.75"/>
<circle cx="391.20" cy="379.20" r="2.2" fill="none" stroke="#bfbfc3" stroke-width="0.75"/>
<circle cx="393.00" cy="379.20" r="2.2" fill="none" stroke="#bfbfc3" stroke-width="0.75"/>
<circle cx="394.80" cy="379.20" r="2.2" fill="none" stroke="#bfbfc3" stroke-width="0.75"/>
<circle cx="443.50" cy="379.20" r="2.2" fill="none" stroke="#bfbfc3" stroke-width="0.75"/>
<circle cx="448.30" cy="379.20" r="2.2" fill="none" stroke="#bfbfc3" stroke-width="0.75"/>
<circle cx="457.40" cy="379.20" r="2.2" fill="none" stroke="#bfbfc3" stroke-width="0.75"/>
<circle cx="463.20" cy="379.20" r="2.2" fill="none" stroke="#bfbfc3" stroke-width="0.75"/>
<circle cx="486.30" cy="379.20" r="2.2" fill="none" stroke="#bfbfc3" stroke-width="0.75"/>
<circle cx="376.0" cy="379.2" r="1.05" fill="#f4f4f6"/>
<circle cx="380.3" cy="379.2" r="1.05" fill="#f4f4f6"/>
<circle cx="384.4" cy="379.2" r="1.05" fill="#f4f4f6"/>
<circle cx="399.5" cy="379.2" r="1.05" fill="#f4f4f6"/>
<circle cx="405.6" cy="379.2" r="1.05" fill="#f4f4f6"/>
<circle cx="411.0" cy="379.2" r="1.05" fill="#f4f4f6"/>
<circle cx="416.5" cy="379.2" r="1.05" fill="#f4f4f6"/>
<circle cx="422.6" cy="379.2" r="1.05" fill="#f4f4f6"/>
<circle cx="428.5" cy="379.2" r="1.05" fill="#f4f4f6"/>
<circle cx="434.0" cy="379.2" r="1.05" fill="#f4f4f6"/>
<circle cx="443.5" cy="379.2" r="1.05" fill="#f4f4f6"/>
<circle cx="448.3" cy="379.2" r="1.05" fill="#f4f4f6"/>
<circle cx="381.30" cy="372.20" r="2.2" fill="none" stroke="#b9b9bb" stroke-width="0.75"/>
<circle cx="394.50" cy="365.10" r="2.2" fill="none" stroke="#b9b9bb" stroke-width="0.75"/>
<circle cx="394.50" cy="368.10" r="2.2" fill="none" stroke="#b9b9bb" stroke-width="0.75"/>
<circle cx="394.50" cy="371.10" r="2.2" fill="none" stroke="#b9b9bb" stroke-width="0.75"/>
<circle cx="394.50" cy="373.90" r="2.2" fill="none" stroke="#b9b9bb" stroke-width="0.75"/>
<circle cx="400.50" cy="364.40" r="2.2" fill="none" stroke="#b9b9bb" stroke-width="0.75"/>
<circle cx="405.80" cy="364.00" r="2.2" fill="none" stroke="#b9b9bb" stroke-width="0.75"/>
<circle cx="401.70" cy="368.10" r="2.2" fill="none" stroke="#b9b9bb" stroke-width="0.75"/>
<circle cx="405.80" cy="369.80" r="2.2" fill="none" stroke="#b9b9bb" stroke-width="0.75"/>
<circle cx="400.80" cy="373.10" r="2.2" fill="none" stroke="#b9b9bb" stroke-width="0.75"/>
<circle cx="405.00" cy="373.90" r="2.2" fill="none" stroke="#b9b9bb" stroke-width="0.75"/>
<circle cx="402.80" cy="370.60" r="2.2" fill="none" stroke="#b9b9bb" stroke-width="0.75"/>
<circle cx="414.40" cy="340.20" r="2.2" fill="none" stroke="#b9b9bb" stroke-width="0.75"/>
<circle cx="420.40" cy="346.50" r="2.2" fill="none" stroke="#b9b9bb" stroke-width="0.75"/>
<circle cx="414.10" cy="348.20" r="2.2" fill="none" stroke="#b9b9bb" stroke-width="0.75"/>
<circle cx="413.60" cy="356.80" r="2.2" fill="none" stroke="#b9b9bb" stroke-width="0.75"/>
<circle cx="421.60" cy="363.40" r="2.2" fill="none" stroke="#b9b9bb" stroke-width="0.75"/>
<circle cx="413.80" cy="368.40" r="2.2" fill="none" stroke="#b9b9bb" stroke-width="0.75"/>
<circle cx="436.40" cy="340.10" r="2.2" fill="none" stroke="#b9b9bb" stroke-width="0.75"/>
<circle cx="440.00" cy="338.40" r="2.2" fill="none" stroke="#b9b9bb" stroke-width="0.75"/>
<circle cx="455.30" cy="344.10" r="2.2" fill="none" stroke="#b9b9bb" stroke-width="0.75"/>
<circle cx="462.40" cy="340.10" r="2.2" fill="none" stroke="#b9b9bb" stroke-width="0.75"/>
<circle cx="483.40" cy="327.10" r="2.2" fill="none" stroke="#b9b9bb" stroke-width="0.75"/>
<polygon points="400.95,334.74 407.25,334.74 404.10,329.26" fill="#fff" stroke="#363e5c" stroke-width="0.95" stroke-linejoin="miter"/>
<polygon points="401.85,348.34 408.15,348.34 405.00,342.86" fill="#fff" stroke="#363e5c" stroke-width="0.95" stroke-linejoin="miter"/>
<polygon points="391.45,358.84 397.75,358.84 394.60,353.36" fill="#fff" stroke="#363e5c" stroke-width="0.95" stroke-linejoin="miter"/>
<polygon points="424.65,348.34 430.95,348.34 427.80,342.86" fill="#fff" stroke="#363e5c" stroke-width="0.95" stroke-linejoin="miter"/>
<polygon points="442.25,350.34 448.55,350.34 445.40,344.86" fill="#fff" stroke="#363e5c" stroke-width="0.95" stroke-linejoin="miter"/>
<polygon points="451.95,318.64 458.25,318.64 455.10,313.16" fill="#fff" stroke="#363e5c" stroke-width="0.95" stroke-linejoin="miter"/>
<polygon points="495.75,290.44 502.05,290.44 498.90,284.96" fill="#fff" stroke="#363e5c" stroke-width="0.95" stroke-linejoin="miter"/>
<circle cx="436.20" cy="343.80" r="2.15" fill="#4a1a6a"/>
<circle cx="459.80" cy="253.00" r="2.45" fill="#183f88"/>
<polygon points="462.70,272.74 468.30,272.74 465.50,267.86" fill="#183f88"/>
<text x="471.7" y="272.9" font-size="8.51" text-anchor="start" font-weight="normal" fill="#31548f" stroke="#31548f" stroke-width="0.08" textLength="35.50" lengthAdjust="spacingAndGlyphs" >B–ALL7_8</text>
<rect x="366.8" y="247.0" width="146.1" height="138.35" fill="none" stroke="#151515" stroke-width="1.5"/>
<line x1="363.3" y1="379.20" x2="366.2" y2="379.20" stroke="#222" stroke-width="0.9"/>
<text x="360.7" y="382.09999999999997" font-size="9.20" text-anchor="end" font-weight="normal" fill="#222" stroke="#222" stroke-width="0.15" textLength="4.45" lengthAdjust="spacingAndGlyphs" >0</text>
<line x1="363.3" y1="348.25" x2="366.2" y2="348.25" stroke="#222" stroke-width="0.9"/>
<text x="360.7" y="351.15" font-size="9.20" text-anchor="end" font-weight="normal" fill="#222" stroke="#222" stroke-width="0.15" textLength="9.20" lengthAdjust="spacingAndGlyphs" >20</text>
<line x1="363.3" y1="317.30" x2="366.2" y2="317.30" stroke="#222" stroke-width="0.9"/>
<text x="360.7" y="320.19999999999993" font-size="9.20" text-anchor="end" font-weight="normal" fill="#222" stroke="#222" stroke-width="0.15" textLength="9.20" lengthAdjust="spacingAndGlyphs" >40</text>
<line x1="363.3" y1="286.35" x2="366.2" y2="286.35" stroke="#222" stroke-width="0.9"/>
<text x="360.7" y="289.24999999999994" font-size="9.20" text-anchor="end" font-weight="normal" fill="#222" stroke="#222" stroke-width="0.15" textLength="9.20" lengthAdjust="spacingAndGlyphs" >60</text>
<line x1="363.3" y1="255.40" x2="366.2" y2="255.40" stroke="#222" stroke-width="0.9"/>
<text x="360.7" y="258.29999999999995" font-size="9.20" text-anchor="end" font-weight="normal" fill="#222" stroke="#222" stroke-width="0.15" textLength="9.20" lengthAdjust="spacingAndGlyphs" >80</text>
<line x1="373.30" y1="385.8" x2="373.30" y2="388.7" stroke="#222" stroke-width="0.9"/>
<text x="373.3" y="398.9" font-size="8.40" text-anchor="middle" font-weight="normal" fill="#1a1a1a" stroke="#1a1a1a" stroke-width="0.15" textLength="4.45" lengthAdjust="spacingAndGlyphs" >0</text>
<line x1="411.05" y1="385.8" x2="411.05" y2="388.7" stroke="#222" stroke-width="0.9"/>
<text x="411.05" y="398.9" font-size="8.40" text-anchor="middle" font-weight="normal" fill="#1a1a1a" stroke="#1a1a1a" stroke-width="0.15" textLength="13.35" lengthAdjust="spacingAndGlyphs" >100</text>
<line x1="448.80" y1="385.8" x2="448.80" y2="388.7" stroke="#222" stroke-width="0.9"/>
<text x="448.8" y="398.9" font-size="8.40" text-anchor="middle" font-weight="normal" fill="#1a1a1a" stroke="#1a1a1a" stroke-width="0.15" textLength="13.35" lengthAdjust="spacingAndGlyphs" >200</text>
<line x1="486.55" y1="385.8" x2="486.55" y2="388.7" stroke="#222" stroke-width="0.9"/>
<text x="486.55" y="398.9" font-size="8.40" text-anchor="middle" font-weight="normal" fill="#1a1a1a" stroke="#1a1a1a" stroke-width="0.15" textLength="13.35" lengthAdjust="spacingAndGlyphs" >300</text>
<text x="439.8" y="412.2" font-size="9.15" text-anchor="middle" font-weight="normal" fill="#111" stroke="#111" stroke-width="0.5" textLength="68.00" lengthAdjust="spacingAndGlyphs" >Total expression (TPM)</text>
<text transform="translate(345.4,316.1) rotate(-90)" font-size="9.9" text-anchor="middle" fill="#1a1a1a" stroke="#1a1a1a" stroke-width="0.3" textLength="75.5" lengthAdjust="spacingAndGlyphs">Deletion transcript (TPM)</text>
<rect x="0.5" y="0.5" width="519" height="421" fill="none" stroke="#000" stroke-width="1.2"/>
</svg>
</body></html>
